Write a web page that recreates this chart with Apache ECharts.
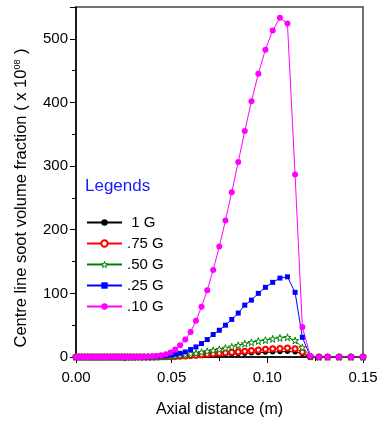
<!DOCTYPE html>
<html>
<head>
<meta charset="utf-8">
<script src="https://cdn.jsdelivr.net/npm/echarts@6/dist/echarts.min.js"></script>
<style>
  html, body { margin: 0; padding: 0; background: #fff; }
  #chart { width: 384px; height: 423px; }
</style>
</head>
<body>
<div id="chart"></div>
<script>
// axial positions of the computational mesh (m)
const axialDistance = [
  0, 0.0015, 0.003, 0.0045, 0.006, 0.0075, 0.009, 0.0105, 0.012, 0.0135,
  0.015, 0.0165, 0.018, 0.0195, 0.021, 0.0225, 0.024, 0.0255, 0.027, 0.0285,
  0.030, 0.0318, 0.0336, 0.0355, 0.0376, 0.0398, 0.0420, 0.0445, 0.0470, 0.0494,
  0.0518, 0.0544, 0.0571, 0.0599, 0.0627, 0.0656, 0.0686, 0.0717, 0.0749, 0.0781,
  0.0814, 0.0848, 0.0882, 0.0917, 0.0953, 0.0990, 0.1028, 0.1066, 0.1105, 0.1145,
  0.1183, 0.1225, 0.1270, 0.1315, 0.1375, 0.1437, 0.1500
]

// soot volume fraction (x 10^08) per gravity level
const g100 = [
  0, 0, 0, 0, 0, 0, 0, 0, 0, 0,
  0, 0, 0, 0, 0, 0, 0, 0, 0, 0,
  0, 0, 0, 0, 0, 0, 0.05, 0.1, 0.2, 0.3,
  0.45, 0.6, 0.8, 1, 1.4, 1.8, 2.3, 2.8, 3.3, 3.9,
  4.5, 5, 5.6, 6.2, 6.8, 7.3, 7.8, 8.2, 8.5, 8,
  5, 0.3, 0, 0, 0, 0, 0
]
const g075 = [
  0, 0, 0, 0, 0, 0, 0, 0, 0, 0,
  0, 0, 0, 0, 0, 0, 0, 0, 0, 0,
  0, 0, 0, 0, 0, 0.05, 0.1, 0.2, 0.35, 0.5,
  0.8, 1.2, 1.7, 2.2, 2.8, 3.5, 4.3, 5, 5.8, 6.6,
  7.4, 8.2, 9.2, 10.2, 11, 12, 12.8, 13.5, 14, 13,
  8, 0.5, 0, 0, 0, 0, 0
]
const g050 = [
  0, 0, 0, 0, 0, 0, 0, 0, 0, 0,
  0, 0, 0, 0, 0, 0, 0, 0, 0, 0,
  0, 0, 0, 0, 0, 0.1, 0.3, 0.6, 1, 1.5,
  2.2, 3, 4, 5, 6, 7.5, 9, 10.5, 12, 14,
  16, 18.5, 21, 23, 25, 26.5, 28.5, 30, 31, 26,
  15, 1, 0, 0, 0, 0, 0
]
const g025 = [
  0, 0, 0, 0, 0, 0, 0, 0, 0, 0,
  0, 0, 0, 0, 0, 0, 0, 0, 0, 0,
  0, 0, 0.05, 0.1, 0.3, 0.5, 1, 1.5, 2, 2.8,
  4.3, 5.8, 7.9, 11.7, 15.8, 21.1, 27.4, 35.3, 42, 50,
  59, 69, 81.5, 89.4, 100, 109.5, 117.3, 124, 126, 101.6,
  31, 0.5, 0, 0, 0, 0, 0
]
const g010 = [
  0, 0, 0, 0, 0, 0, 0, 0, 0, 0,
  0, 0, 0, 0, 0, 0, 0, 0, 0, 0,
  0, 0.05, 0.1, 0.3, 0.6, 1, 1.6, 2.7, 4.3, 6.9,
  11.7, 18.5, 27.4, 39.4, 56.8, 79, 105, 136.8, 173.5, 214.5,
  259, 306.6, 355, 402, 445, 483, 513, 533, 524, 286.6,
  47, 1.5, 0, 0, 0, 0, 0
]

const seriesNames = [' 1 G', '.75 G', '.50 G', '.25 G', '.10 G']

const STAR = 'path://M50,0 L61,35 L98,35 L68,57 L79,91 L50,70 L21,91 L32,57 L2,35 L39,35 Z'

function pairs(values) {
  return axialDistance.map((x, i) => [x, values[i]])
}

function lineSeries(name, values, color, symbol, size, itemStyle) {
  return {
    name,
    type: 'line',
    data: pairs(values),
    symbol,
    symbolSize: size,
    showAllSymbol: true,
    lineStyle: { color, width: 1 },
    itemStyle: itemStyle || { color },
    emphasis: { disabled: true },
    animation: false,
  }
}

const chart = echarts.init(document.getElementById('chart'))
const font = '"Liberation Sans", Arial, sans-serif'

chart.setOption({
  animation: false,
  textStyle: { fontFamily: font },
  title: {
    text: 'Legends',
    left: 85,
    top: 178,
    padding: 0,
    textStyle: { color: '#1a1aff', fontSize: 17, fontWeight: 'normal', fontFamily: font },
  },
  legend: {
    orient: 'vertical',
    left: 86,
    top: 214,
    padding: 0,
    itemWidth: 35,
    itemHeight: 8,
    itemGap: 4,
    data: [
      { name: seriesNames[0] },
      { name: seriesNames[1] },
      { name: seriesNames[2], itemStyle: { color: '#ffffff', borderColor: '#008000', borderWidth: 1 } },
      { name: seriesNames[3] },
      { name: seriesNames[4] },
    ],
    textStyle: { fontSize: 15, color: '#000', fontFamily: font, lineHeight: 17 },
    lineStyle: { width: 2 },
  },
  grid: {
    left: 76, right: 21, top: 7, bottom: 66,
    show: true,
    borderColor: '#444',
    borderWidth: 1.5,
  },
  xAxis: {
    type: 'value',
    min: 0, max: 0.15, interval: 0.05,
    name: 'Axial distance (m)',
    nameLocation: 'middle',
    nameGap: 45,
    nameTextStyle: { fontSize: 16, color: '#000', fontFamily: font },
    axisLine: { show: true, lineStyle: { color: '#000', width: 1.5 } },
    axisTick: { show: true, length: 6, lineStyle: { color: '#000' } },
    minorTick: { show: true, splitNumber: 2, length: 4, lineStyle: { color: '#000' } },
    axisLabel: { fontSize: 15, color: '#000', margin: 13, formatter: v => v.toFixed(2) },
    splitLine: { show: false },
  },
  yAxis: {
    type: 'value',
    min: 0, max: 550, interval: 100,
    name: '{a|Centre line soot volume fraction ( x 10}{s|08}{a| )}',
    nameLocation: 'middle',
    nameGap: 46,
    nameTextStyle: {
      color: '#000',
      padding: [0, 32, 0, 0],
      rich: {
        a: { fontSize: 16.5, color: '#000', fontFamily: font },
        s: { fontSize: 9, color: '#000', fontFamily: font, verticalAlign: 'top', padding: [0, 1, 8, 0] },
      },
    },
    axisLine: { show: true, lineStyle: { color: '#000', width: 1.5 } },
    axisTick: { show: true, length: 6, lineStyle: { color: '#000' } },
    minorTick: { show: true, splitNumber: 2, length: 4, lineStyle: { color: '#000' } },
    axisLabel: { fontSize: 15, color: '#000', margin: 8, showMaxLabel: false },
    splitLine: { show: false },
  },
  series: [
    lineSeries(seriesNames[0], g100, '#000000', 'circle', 5),
    lineSeries(seriesNames[1], g075, '#ff0000', 'emptyCircle', 5,
      { color: '#ff0000', borderWidth: 1 }),
    lineSeries(seriesNames[2], g050, '#008000', STAR, 7,
      { color: '#ffffff', borderColor: '#008000', borderWidth: 1 }),
    lineSeries(seriesNames[3], g025, '#0000ff', 'rect', 5),
    lineSeries(seriesNames[4], g010, '#ff00ff', 'circle', 6),
  ],
})
</script>
</body>
</html>
